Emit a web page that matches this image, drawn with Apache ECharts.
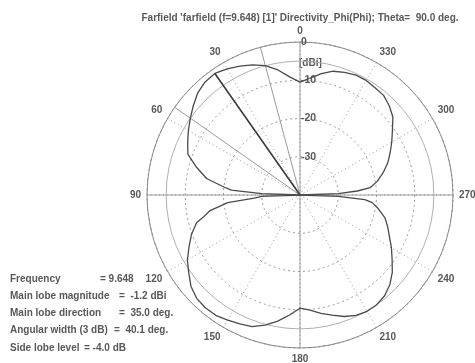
<!DOCTYPE html>
<html>
<head>
<meta charset="utf-8">
<script src="https://cdn.jsdelivr.net/npm/echarts@6/dist/echarts.min.js"></script>
<style>
  html, body { margin: 0; padding: 0; background: #fff; }
  #chart { width: 475px; height: 363px; }
</style>
</head>
<body>
<div id="chart"></div>
<script>
// Farfield cut: directivity (dBi) versus azimuth Phi, Theta = 90 deg.
const phiDeg = [
  0, 5, 10, 15, 20, 25, 30, 35, 40, 45, 50, 55, 60, 65, 70, 75, 80, 84, 86, 88, 90,
  92, 94, 96, 100, 103, 105, 110, 115, 120, 125, 130, 135, 140, 145, 150, 155, 160, 165, 170, 175, 180,
  185, 190, 195, 200, 205, 210, 215, 220, 225, 230, 235, 240, 245, 250, 255, 260, 264, 266, 268, 270,
  272, 274, 276, 280, 285, 290, 295, 300, 305, 310, 315, 320, 325, 330, 335, 340, 345, 350, 355, 360
];
const directivityDbi = [
  -10.5, -9.0, -6.8, -5.0, -3.8, -2.8, -1.9, -1.2, -1.4, -2.2, -3.6, -5.0, -6.3, -7.6, -8.8, -12.0, -15.2, -20.0, -22.0, -30.0, -40.0,
  -30.0, -28.0, -21.0, -16.0, -14.0, -12.0, -9.8, -8.0, -6.0, -4.5, -2.8, -1.8, -1.5, -1.6, -2.2, -2.8, -3.4, -4.8, -6.5, -8.5, -10.4,
  -9.8, -8.6, -7.5, -6.2, -5.3, -4.9, -5.0, -5.6, -6.8, -8.5, -10.6, -12.4, -14.2, -15.6, -17.0, -19.2, -21.0, -23.0, -30.0, -40.0,
  -30.0, -25.0, -21.5, -19.5, -17.5, -15.6, -14.0, -12.3, -10.5, -8.3, -7.0, -6.0, -5.8, -5.4, -5.4, -5.9, -6.5, -7.8, -9.3, -10.5
];

const angleTicks = ['0', '30', '60', '90', '120', '150', '180', '210', '240', '270', '300', '330'];
const radiusTicks = [-40, -30, -20, -10, 0];
const radiusLabels = ['', '-30', '-20', '-10', '0'];

// Main lobe and 3 dB beam-width markers
const mainLobeDir = 35.0;
const mainLobeMag = -1.2;
const beamEdges = [15, 55];
const beamCircleDb = -5;

// Summary block: label, value text, x of the "=" sign
const infoLabels = ['Frequency', 'Main lobe magnitude', 'Main lobe direction', 'Angular width (3 dB)', 'Side lobe level'];
const infoValues = ['= 9.648', '=  -1.2 dBi', '=  35.0 deg.', '=  40.1 deg.', '= -4.0 dB'];
const infoEqX = [100, 119, 119, 114, 84];

const rMin = radiusTicks[0];
const rMax = radiusTicks[radiusTicks.length - 1];
const CX = 300, CY = 195, R = 153;

const chart = echarts.init(document.getElementById('chart'), null, { renderer: 'canvas' });

const fontFam = '"Liberation Sans", Arial, sans-serif';
const gridGray = '#8a8a8a';
const textGray = '#585858';

const curve = phiDeg.map((p, i) => [directivityDbi[i], p]);
const spoke = (ang, to, color, width, name) => ({
  type: 'line', coordinateSystem: 'polar', polarIndex: 0, name: name,
  data: [[rMin, ang], [to, ang]], symbol: 'none', silent: true,
  lineStyle: { color: color, width: width }, z: 3
});

const series = [];
[0, 90, 180, 270].forEach(a => series.push(spoke(a, rMax, '#9a9a9a', 1, 'axis' + a)));
beamEdges.forEach(a => series.push(spoke(a, rMax, '#9a9a9a', 1, 'edge' + a)));
series.push(spoke(mainLobeDir, mainLobeMag, '#3a3a3a', 1.6, 'mainlobe'));
series.push({
  type: 'line', coordinateSystem: 'polar', polarIndex: 0, name: 'Directivity',
  data: curve, symbol: 'none', smooth: false,
  lineStyle: { color: '#4a4a4a', width: 1.3 }, z: 5
});

const graphics = [
  {
    type: 'text',
    style: {
      text: "Farfield 'farfield (f=9.648) [1]' Directivity_Phi(Phi); Theta=  90.0 deg.",
      font: 'bold 10px ' + fontFam, fill: textGray, align: 'center', verticalAlign: 'middle', x: CX, y: 18
    }
  },
  {
    type: 'text',
    style: { text: '[dBi]', font: 'bold 10px ' + fontFam, fill: textGray, x: CX - 1, y: 63, align: 'left', verticalAlign: 'middle' }
  }
];
infoLabels.forEach((lab, i) => {
  const y = 279 + i * 17.2;
  graphics.push({
    type: 'text',
    style: { text: lab, font: 'bold 10px ' + fontFam, fill: textGray, x: 10, y: y, verticalAlign: 'middle' }
  });
  graphics.push({
    type: 'text',
    style: { text: infoValues[i], font: 'bold 10px ' + fontFam, fill: textGray, x: infoEqX[i], y: y, verticalAlign: 'middle' }
  });
});

chart.setOption({
  backgroundColor: '#fff',
  animation: false,
  polar: [
    { center: [CX, CY], radius: R },
    { center: [CX, CY], radius: R * (beamCircleDb - rMin) / (rMax - rMin) }
  ],
  angleAxis: [
    {
      polarIndex: 0, type: 'value', min: 0, max: 360, interval: 30,
      startAngle: 90, clockwise: false,
      axisLine: { lineStyle: { color: gridGray, width: 1 } },
      axisTick: { show: false },
      axisLabel: {
        margin: 6, color: textGray, fontFamily: fontFam, fontWeight: 'bold', fontSize: 10,
        formatter: v => (v >= 360 ? '' : angleTicks[Math.round(v / 30) % 12])
      },
      splitLine: { show: true, lineStyle: { color: '#9a9a9a', type: [1, 3], width: 1 } }
    },
    {
      polarIndex: 1, type: 'value', min: 0, max: 360, startAngle: 90, clockwise: false,
      axisLine: { lineStyle: { color: '#b0b0b0', width: 1 } },
      axisTick: { show: false }, axisLabel: { show: false }, splitLine: { show: false }
    }
  ],
  radiusAxis: [
    {
      polarIndex: 0, type: 'value', min: rMin, max: rMax, interval: 10,
      axisLine: { show: false }, axisTick: { show: false },
      axisLabel: {
        color: textGray, fontFamily: fontFam, fontWeight: 'bold', fontSize: 10.5,
        formatter: v => radiusLabels[radiusTicks.indexOf(v)] || '',
        align: 'left', margin: -1, padding: [4, 0, 0, 0]
      },
      splitLine: { show: true, lineStyle: { color: '#9a9a9a', type: [2, 3], width: 1 } }
    },
    {
      polarIndex: 1, type: 'value', min: rMin, max: rMax,
      axisLine: { show: false }, axisTick: { show: false }, axisLabel: { show: false }, splitLine: { show: false }
    }
  ],
  series: series,
  graphic: graphics
});
</script>
</body>
</html>
